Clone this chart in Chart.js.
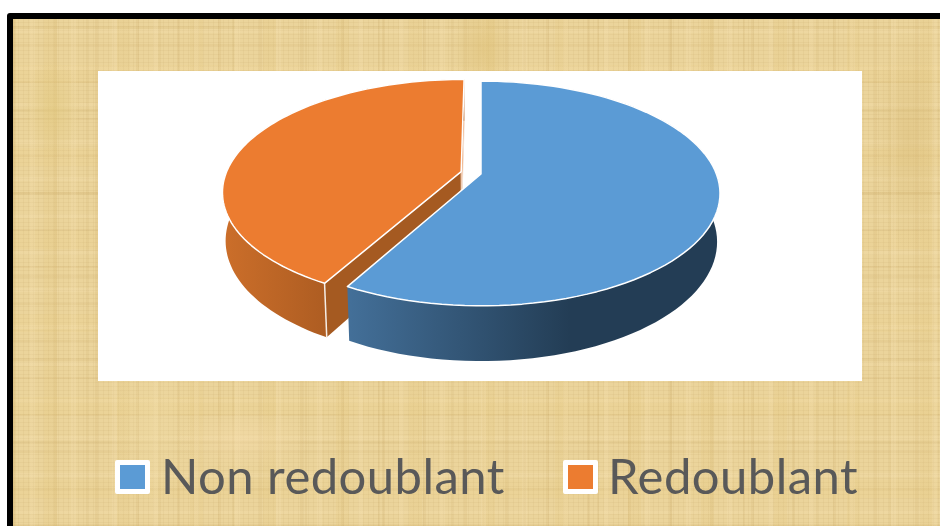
<!DOCTYPE html>
<html>
<head>
<meta charset="utf-8">
<script src="https://cdn.jsdelivr.net/npm/chart.js@4"></script>
<style>
html, body { margin: 0; padding: 0; background: #fff; overflow: hidden; }
#page { position: relative; width: 940px; height: 526px; overflow: hidden; }
#frame {
	position: absolute; left: 7px; top: 13px; width: 940px; height: 520px;
	box-sizing: border-box; border: 6px solid #000; border-radius: 3px;
	background-color: #ebd49b;
	background-image:
		radial-gradient(ellipse 30px 60px at 470px 30px, rgba(220,190,115,.5), transparent),
		radial-gradient(ellipse 40px 80px at 140px 410px, rgba(240,220,165,.4), transparent),
		radial-gradient(ellipse 35px 110px at 895px 120px, rgba(215,185,115,.4), transparent),
		radial-gradient(ellipse 30px 50px at 40px 90px, rgba(225,200,125,.5), transparent),
		radial-gradient(ellipse 70px 30px at 230px 420px, rgba(245,220,170,.5), transparent),
		repeating-linear-gradient(90deg, rgba(195,160,90,.13) 0 3px, transparent 3px 17px, rgba(250,230,185,.18) 17px 22px, transparent 22px 41px),
		repeating-linear-gradient(90deg, rgba(185,150,80,.10) 0 2px, transparent 2px 31px, rgba(225,195,120,.16) 31px 44px, transparent 44px 73px),
		repeating-linear-gradient(90deg, rgba(170,135,70,.08) 0 1px, transparent 1px 5px),
		repeating-linear-gradient(0deg, rgba(195,160,90,.13) 0 2px, transparent 2px 13px, rgba(250,230,185,.18) 13px 17px, transparent 17px 37px),
		repeating-linear-gradient(0deg, rgba(185,150,80,.10) 0 3px, transparent 3px 29px, rgba(235,205,130,.15) 29px 47px, transparent 47px 83px),
		repeating-linear-gradient(0deg, rgba(170,135,70,.08) 0 1px, transparent 1px 4px);
}
#panel { position: absolute; left: 98px; top: 71px; width: 764px; height: 310px; background: #fff; }
#chart { position: absolute; left: 0; top: 0; }
.box { position: absolute; top: 460px; width: 35px; height: 34px; box-sizing: border-box; border: 5px solid #fff; border-radius: 2px; }
.name { position: absolute; top: 447px; font: 49px/56px Lato, sans-serif; letter-spacing: 0.45px; color: #595959; white-space: nowrap; }
</style>
</head>
<body>
<div id="page">
	<div id="frame"></div>
	<div id="panel"></div>
	<canvas id="chart" width="940" height="526"></canvas>
	<div id="legend"></div>
</div>
<script>
const labels = ["Non redoublant", "Redoublant"];
const values = [58, 42];
const colors = ["#5B9BD5", "#EC7C30"];

// tilt of the pie, fitted on the reference
const X0 = 481, Y0 = 174, A = 235.4, B = 109, P = 0.173, DEPTH = 48, Q = 0.012;

// where the labels sit in each slice (in radius units)
const labelSpots = [[0.772, 0.312], [-0.734, -0.287]];

function topPt(u, v) {
	let w = 1 - P * v;
	return [X0 + A * u / w, Y0 + B * v / w];
}

function lowPt(u, v) {
	let w = 1 - P * v + Q;
	return [X0 + A * u / w, Y0 + (B * v + DEPTH) / w];
}

// rim of a slice as unit circle points, moved by the library's offset
function rim(arc) {
	let mid = (arc.startAngle + arc.endAngle) / 2;
	let off = arc.options.offset / arc.outerRadius;
	let ou = Math.cos(mid) * off, ov = Math.sin(mid) * off;
	let pts = [];
	let n = 90;
	for (let i = 0; i <= n; i++) {
		let a = arc.startAngle + (arc.endAngle - arc.startAngle) * i / n;
		pts.push([Math.cos(a) + ou, Math.sin(a) + ov]);
	}
	return {pts: pts, ou: ou, ov: ov};
}

function poly(ctx, pts) {
	ctx.beginPath();
	pts.forEach(function (p, i) {
		if (i == 0) ctx.moveTo(p[0], p[1]); else ctx.lineTo(p[0], p[1]);
	});
	ctx.closePath();
}

function sideGradient(ctx, x1, c1, x2, c2) {
	let g = ctx.createLinearGradient(x1, 0, x2, 0);
	g.addColorStop(0, c1);
	g.addColorStop(1, c2);
	return g;
}

const pie3d = {
	id: "pie3d",
	beforeDatasetsDraw(chart) {
		const ctx = chart.ctx;
		const arcs = chart.getDatasetMeta(0).data;
		const walls = [
			sideGradient(ctx, 350, "#436F98", 570, "#233D55"),
			sideGradient(ctx, 225, "#CB6E2A", 325, "#AE5D22")
		];
		// orange first, the blue slice is in front of it
		[1, 0].forEach(function (i) {
			const r = rim(arcs[i]);
			const first = r.pts[0], last = r.pts[r.pts.length - 1];
			ctx.save();
			ctx.lineJoin = "round";
			if (i == 1) {
				// the two cut faces
				poly(ctx, [topPt(r.ou, r.ov), topPt(first[0], first[1]), lowPt(first[0], first[1]), lowPt(r.ou, r.ov)]);
				ctx.fillStyle = "#A55A21";
				ctx.fill();
				poly(ctx, [topPt(r.ou, r.ov), topPt(last[0], last[1]), lowPt(last[0], last[1]), lowPt(r.ou, r.ov)]);
				ctx.fillStyle = colors[1];
				ctx.fill();
				ctx.strokeStyle = "#F3E2D6";
				ctx.lineWidth = 1;
				ctx.stroke();
			}
			// outer wall
			let wall = r.pts.map(function (p) { return topPt(p[0], p[1]); });
			r.pts.slice().reverse().forEach(function (p) { wall.push(lowPt(p[0], p[1])); });
			poly(ctx, wall);
			ctx.fillStyle = walls[i];
			ctx.fill();
			if (i == 1) {
				// white corner between wall and cut face
				ctx.beginPath();
				let a = topPt(first[0], first[1]), b = lowPt(first[0], first[1]);
				ctx.moveTo(a[0], a[1]);
				ctx.lineTo(b[0], b[1]);
				ctx.strokeStyle = "#F5EDE6";
				ctx.lineWidth = 1.5;
				ctx.stroke();
			}
			// top face
			let face = [topPt(r.ou, r.ov)].concat(r.pts.map(function (p) { return topPt(p[0], p[1]); }));
			poly(ctx, face);
			ctx.fillStyle = arcs[i].options.backgroundColor;
			ctx.fill();
			ctx.strokeStyle = "#fff";
			ctx.lineWidth = 1.5;
			ctx.stroke();
			ctx.restore();
		});
		return false;
	},
	afterDatasetsDraw(chart) {
		const ctx = chart.ctx;
		const arcs = chart.getDatasetMeta(0).data;
		const total = values.reduce(function (a, b) { return a + b; }, 0);
		ctx.save();
		ctx.font = "bold 20px Lato, sans-serif";
		ctx.fillStyle = "#000";
		ctx.textAlign = "center";
		ctx.textBaseline = "middle";
		arcs.forEach(function (arc, i) {
			const r = rim(arc);
			const p = topPt(labelSpots[i][0] + r.ou, labelSpots[i][1] + r.ov);
			ctx.fillText(Math.round(values[i] / total * 100) + "%", p[0], p[1]);
		});
		ctx.restore();
	}
};

new Chart(document.getElementById("chart"), {
	type: "pie",
	data: {
		labels: labels,
		datasets: [{
			data: values,
			backgroundColor: colors,
			borderWidth: 0,
			offset: [0, 22]
		}]
	},
	options: {
		responsive: false,
		animation: false,
		events: [],
		plugins: {
			legend: {display: false},
			tooltip: {enabled: false}
		}
	},
	plugins: [pie3d]
});

// legend under the white panel
function buildLegend() {
	const boxLeft = [115, 563];
	const textLeft = [161, 608];
	const insert = document.getElementById("legend");
	labels.forEach(function (item, i) {
		let box = document.createElement("div");
		box.className = "box";
		box.style.left = boxLeft[i] + "px";
		box.style.background = colors[i];
		insert.appendChild(box);
		let name = document.createElement("div");
		name.className = "name";
		name.style.left = textLeft[i] + "px";
		name.innerHTML = item;
		insert.appendChild(name);
	});
}
buildLegend();
</script>
</body>
</html>
